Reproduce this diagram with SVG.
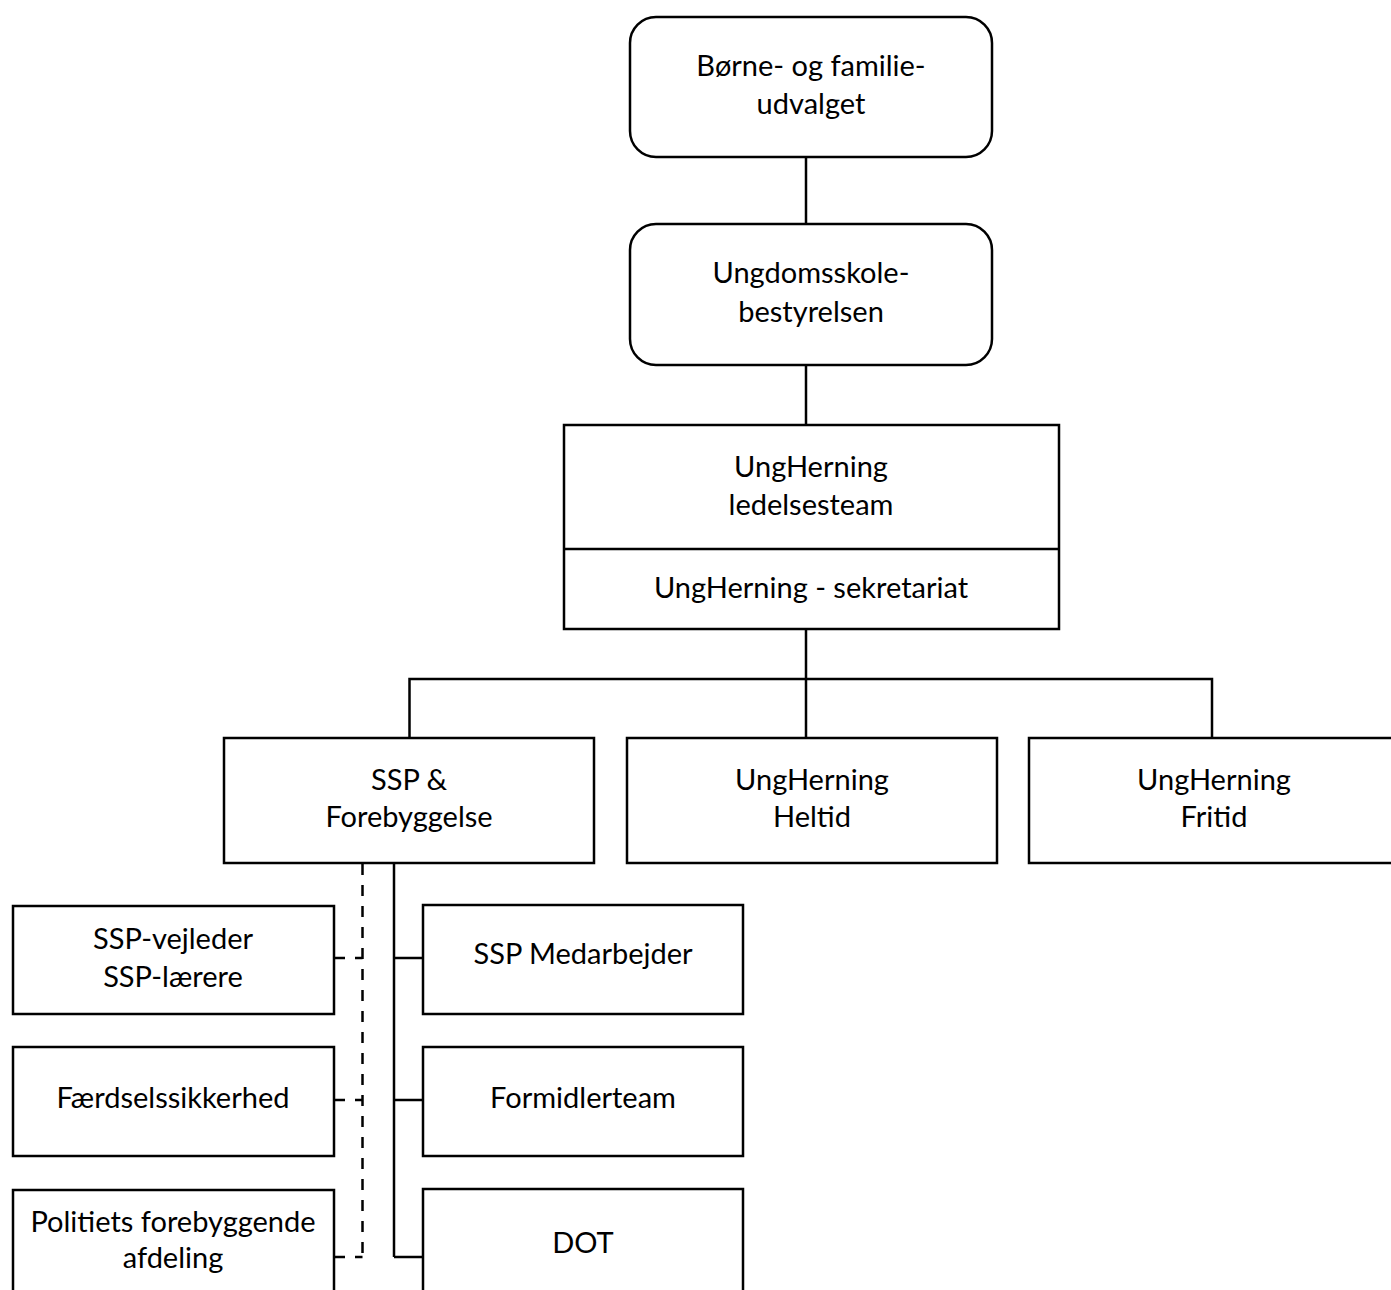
<svg xmlns="http://www.w3.org/2000/svg" width="1391" height="1290" viewBox="0 0 1391 1290">
<style>
.box{fill:#fff;stroke:#000;stroke-width:2.5}
.ln{fill:none;stroke:#000;stroke-width:2.5}
.dash{fill:none;stroke:#000;stroke-width:2.5;stroke-dasharray:11,10}
text{font-family:Lato,"Liberation Sans",sans-serif;font-size:29px;fill:#000;text-anchor:middle}
</style>
<rect width="1391" height="1290" fill="#fff"/>
<g id="connectors">
<path class="ln" d="M806,158V224"/>
<path class="ln" d="M806,365V425"/>
<path class="ln" d="M806,629V679M409.5,738V679H1212V738M806,679V738"/>
<path class="ln" d="M394,864V1257M394,958H423M394,1100H423M394,1257H423"/>
<path class="dash" d="M362.5,864V1257"/>
<path class="dash" d="M334,958H362.5M334,1100H362.5M334,1257H362.5"/>
</g>
<g id="n1"><rect class="box" x="630" y="17" width="362" height="140" rx="26"/><text x="811" y="76">Børne- og familie-</text><text x="811" y="114">udvalget</text></g>
<g id="n2"><rect class="box" x="630" y="224" width="362" height="141" rx="26"/><text x="811" y="283">Ungdomsskole-</text><text x="811" y="322">bestyrelsen</text></g>
<g id="n3"><rect class="box" x="564" y="425" width="495" height="204"/><path class="ln" d="M564,549H1059"/><text x="811" y="477">UngHerning</text><text x="811" y="515">ledelsesteam</text><text x="811" y="598">UngHerning - sekretariat</text></g>
<g id="n4"><rect class="box" x="224" y="738" width="370" height="125"/><text x="409" y="790">SSP &amp;</text><text x="409" y="827">Forebyggelse</text></g>
<g id="n5"><rect class="box" x="627" y="738" width="370" height="125"/><text x="812" y="790">UngHerning</text><text x="812" y="827">Heltid</text></g>
<g id="n6"><rect class="box" x="1029" y="738" width="370" height="125"/><text x="1214" y="790">UngHerning</text><text x="1214" y="827">Fritid</text></g>
<g id="n7"><rect class="box" x="13" y="906" width="321" height="108"/><text x="173" y="949">SSP-vejleder</text><text x="173" y="987">SSP-lærere</text></g>
<g id="n8"><rect class="box" x="13" y="1047" width="321" height="109"/><text x="173" y="1108">Færdselssikkerhed</text></g>
<g id="n9"><rect class="box" x="13" y="1190" width="321" height="120"/><text x="173" y="1232">Politiets forebyggende</text><text x="173" y="1268">afdeling</text></g>
<g id="n10"><rect class="box" x="423" y="905" width="320" height="109"/><text x="583" y="964">SSP Medarbejder</text></g>
<g id="n11"><rect class="box" x="423" y="1047" width="320" height="109"/><text x="583" y="1108">Formidlerteam</text></g>
<g id="n12"><rect class="box" x="423" y="1189" width="320" height="121"/><text x="583" y="1253">DOT</text></g>
</svg>
